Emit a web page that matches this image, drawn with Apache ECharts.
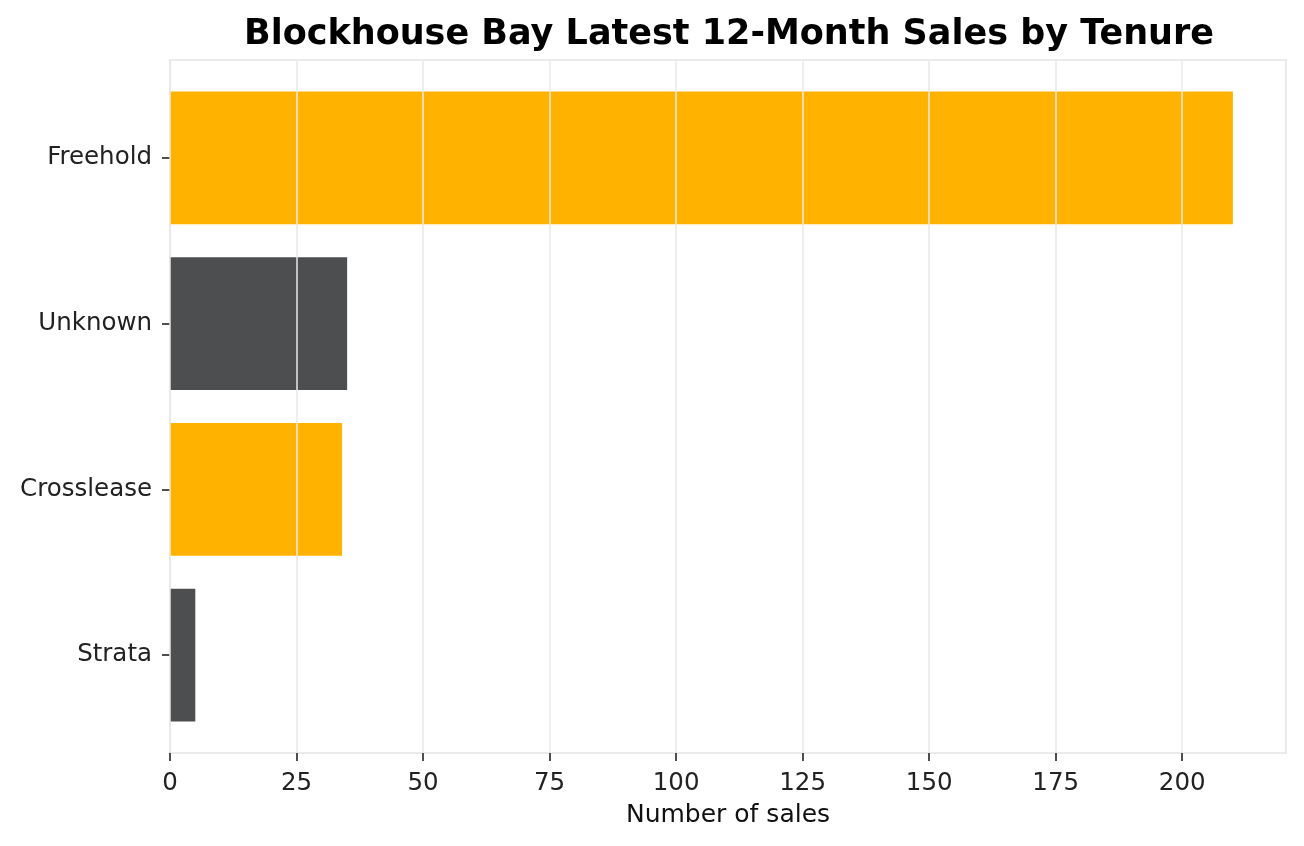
<!DOCTYPE html>
<html>
<head>
<meta charset="utf-8">
<script src="https://cdn.jsdelivr.net/npm/echarts@6/dist/echarts.min.js"></script>
<style>
  html, body { margin: 0; padding: 0; background: #fff; }
  #chart { width: 1304px; height: 846px; }
</style>
</head>
<body>
<div id="chart"></div>
<script>
// data
const tenures = ['Freehold', 'Unknown', 'Crosslease', 'Strata'];
const sales = [210, 35, 34, 5];
const barColors = ['#FFB300', '#4D4E50', '#FFB300', '#4D4E50'];
const xTicks = [0, 25, 50, 75, 100, 125, 150, 175, 200];

const FONT = 'DejaVu Sans';
let myChart = echarts.init(document.getElementById('chart'));

myChart.setOption({
  animation: false,
  textStyle: { fontFamily: FONT },
  title: {
    text: 'Blockhouse Bay Latest 12-Month Sales by Tenure',
    left: 724,
    top: 12,
    textAlign: 'center',
    textStyle: { fontFamily: FONT, fontSize: 35, fontWeight: 'bold', color: '#000' }
  },
  grid: [
    // frame, grid lines, x axis
    { left: 170, right: 18, top: 60, bottom: 93, show: true, borderColor: '#e5e5e5', borderWidth: 1.5, backgroundColor: '#fff' },
    // bars (inset like matplotlib margins)
    { left: 170, right: 18, top: 75, bottom: 108 }
  ],
  xAxis: [
    {
      gridIndex: 0, type: 'value', min: 0, max: 220.5, interval: 25, z: 5,
      name: 'Number of sales', nameLocation: 'middle', nameGap: 50,
      nameTextStyle: { fontFamily: FONT, fontSize: 25, color: '#111' },
      axisLine: { show: false },
      axisTick: { show: true, length: 8, lineStyle: { color: '#222', width: 1.6 }, customValues: xTicks },
      axisLabel: { fontFamily: FONT, fontSize: 24.5, color: '#222', margin: 18, customValues: xTicks },
      splitLine: { show: true, lineStyle: { color: '#e8e8e8', width: 1.5 } }
    },
    {
      gridIndex: 1, type: 'value', min: 0, max: 220.5, show: false
    }
  ],
  yAxis: [
    { gridIndex: 0, type: 'value', show: false, splitLine: { show: false } },
    {
      gridIndex: 1, type: 'category', data: tenures, inverse: true,
      axisLine: { show: false },
      axisTick: { show: true, alignWithLabel: true, length: 8, lineStyle: { color: '#222', width: 1.6 } },
      axisLabel: { fontFamily: FONT, fontSize: 24.5, color: '#222', margin: 18 },
      splitLine: { show: false }
    }
  ],
  series: [
    {
      type: 'bar',
      xAxisIndex: 1,
      yAxisIndex: 1,
      barWidth: '80%',
      z: 2,
      data: sales.map((v, i) => ({ value: v, itemStyle: { color: barColors[i] } }))
    }
  ]
});
</script>
</body>
</html>
